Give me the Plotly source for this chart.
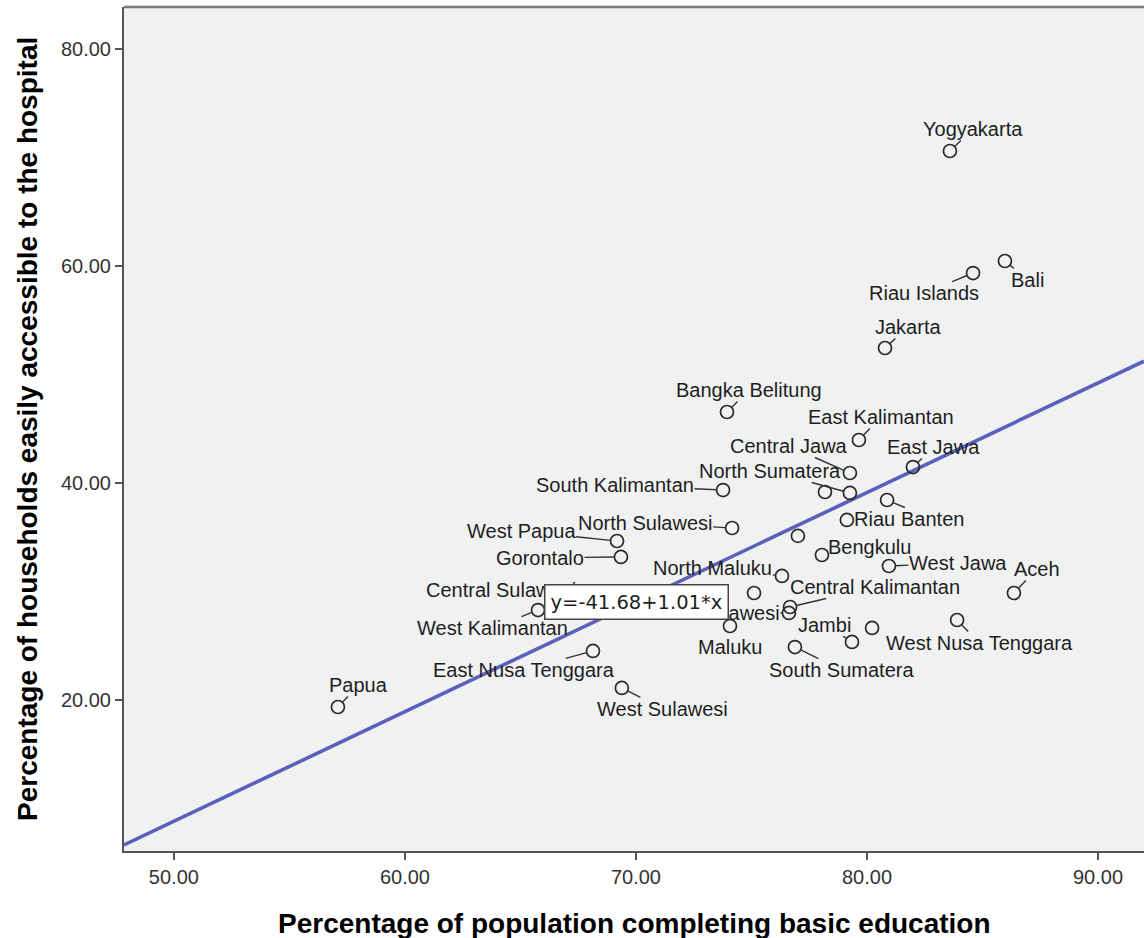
import plotly.graph_objects as go

# Province-level indicators
provinces = [
    "Yogyakarta", "Bali", "Riau Islands", "Jakarta", "Bangka Belitung",
    "East Kalimantan", "Central Jawa", "East Jawa", "South Kalimantan",
    "West Sumatera", "North Sumatera", "Banten", "Riau", "North Sulawesi",
    "South Sulawesi", "Bengkulu", "West Jawa", "North Maluku", "Aceh",
    "Lampung", "Central Kalimantan", "Southeast Sulawesi", "Maluku",
    "West Nusa Tenggara", "North Kalimantan", "Jambi", "South Sumatera",
    "West Papua", "Gorontalo", "Central Sulawesi", "West Kalimantan",
    "East Nusa Tenggara", "West Sulawesi", "Papua",
]
basic_education = [
    83.59, 85.97, 84.59, 80.78, 73.94,
    79.65, 79.26, 81.99, 73.77,
    78.18, 79.26, 80.87, 79.13, 74.16,
    77.01, 78.05, 80.95, 76.32, 86.36,
    75.11, 76.67, 76.62, 74.07,
    83.90, 80.22, 79.35, 76.88,
    69.18, 69.35, 66.54, 65.76,
    68.14, 69.39, 57.10,
]
hospital_access = [
    70.60, 60.46, 59.35, 52.44, 46.54,
    43.96, 40.92, 41.47, 39.35,
    39.17, 39.08, 38.43, 36.59, 35.85,
    35.12, 33.36, 32.35, 31.43, 29.86,
    29.86, 28.57, 28.02, 26.82,
    27.37, 26.64, 25.35, 24.88,
    34.65, 33.18, 28.94, 28.29,
    24.52, 21.11, 19.35,
]

# Linear fit (least squares)
fit_intercept = -41.68
fit_slope = 1.01

x_tick_values = [50, 60, 70, 80, 90]
y_tick_values = [20, 40, 60, 80]

x_title = "Percentage of population completing basic education"
y_title = "Percentage of households easily accessible to the hospital"

# Where each point label sits: offset of the label centre from its marker,
# in screen pixels (x to the right, y downward). Points not listed keep no label.
label_offsets = {
    "Yogyakarta": (23, -22),
    "Bali": (23, 19),
    "Riau Islands": (-49, 20),
    "Jakarta": (23, -21),
    "Bangka Belitung": (22, -22),
    "East Kalimantan": (22, -23),
    "Central Jawa": (-61, -27),
    "East Jawa": (21, -20),
    "South Kalimantan": (-108, -5),
    "North Sumatera": (-80, -22),
    "Banten": (45, 19),
    "Riau": (28, -1),
    "North Sulawesi": (-87, -5),
    "Bengkulu": (48, -8),
    "West Jawa": (69, -3),
    "North Maluku": (-69, -8),
    "Aceh": (23, -24),
    "Central Kalimantan": (85, -20),
    "Southeast Sulawesi": (-97, 0),
    "Maluku": (0, 21),
    "West Nusa Tenggara": (22, 23),
    "Jambi": (-27, -17),
    "South Sumatera": (47, 23),
    "West Papua": (-96, -10),
    "Gorontalo": (-81, 1),
    "Central Sulawesi": (-55, -13),
    "West Kalimantan": (-46, 18),
    "East Nusa Tenggara": (-69, 19),
    "West Sulawesi": (41, 21),
    "Papua": (21, -22),
}

X_RANGE = [47.84, 91.99]
Y_RANGE = [6.08, 83.87]

SANS = "Liberation Sans, Arial, Helvetica, sans-serif"
PLOT_BG = "#f0f1f1"
AXIS_COLOR = "#555555"
TEXT_COLOR = "#1e1e1e"
FIT_COLOR = "#5a61bb"

fig = go.Figure()

# Regression line across the full horizontal extent
fit_x = list(X_RANGE)
fit_y = [fit_intercept + fit_slope * v for v in fit_x]
fig.add_trace(go.Scatter(
    x=fit_x, y=fit_y, mode="lines",
    line=dict(color=FIT_COLOR, width=3.6),
    hoverinfo="skip", showlegend=False,
))

# Province markers
fig.add_trace(go.Scatter(
    x=basic_education, y=hospital_access, mode="markers",
    text=provinces,
    marker=dict(symbol="circle-open", size=13, color="#2a2a2a",
                line=dict(width=1.7)),
    hovertemplate="%{text}<br>%{x:.2f}, %{y:.2f}<extra></extra>",
    showlegend=False,
))

annotations = []
for name, xv, yv in zip(provinces, basic_education, hospital_access):
    if name not in label_offsets:
        continue
    dx, dy = label_offsets[name]
    annotations.append(dict(
        x=xv, y=yv, xref="x", yref="y",
        text=name, showarrow=True,
        ax=dx, ay=dy,
        arrowhead=0, arrowwidth=1.4, arrowcolor="#333333",
        standoff=6.5, borderpad=0,
        font=dict(family=SANS, size=20, color=TEXT_COLOR),
    ))

# Axis titles
annotations.append(dict(
    x=0.5, y=0, xref="paper", yref="paper",
    text="<b>%s</b>" % x_title, showarrow=False,
    xanchor="center", yanchor="middle", yshift=-72,
    font=dict(family=SANS, size=28, color="#000000"),
))
annotations.append(dict(
    x=0, y=0.5, xref="paper", yref="paper",
    text="<b>%s</b>" % y_title, showarrow=False, textangle=-90,
    xanchor="center", yanchor="middle", xshift=-97,
    font=dict(family=SANS, size=28, color="#000000"),
))

# Fit equation box, drawn last so it sits over nearby labels
annotations.append(dict(
    x=70.02, y=29.03, xref="x", yref="y",
    text="y=%.2f+%.2f*x" % (fit_intercept, fit_slope),
    showarrow=False, xanchor="center", yanchor="middle",
    bgcolor="#ffffff", bordercolor="#444444", borderwidth=1.5, borderpad=5,
    font=dict(family="DejaVu Sans, sans-serif", size=19.5, color=TEXT_COLOR),
))

axis_common = dict(
    showgrid=False, zeroline=False,
    showline=True, linecolor=AXIS_COLOR, linewidth=2,
    ticks="outside", ticklen=7, tickwidth=2, tickcolor=AXIS_COLOR,
    tickformat=".2f",
    tickfont=dict(family=SANS, size=20, color="#333333"),
)

fig.update_layout(
    width=1144, height=938,
    margin=dict(l=124, r=0, t=7, b=87),
    paper_bgcolor="#ffffff",
    plot_bgcolor=PLOT_BG,
    xaxis=dict(range=X_RANGE, tickvals=x_tick_values, **axis_common),
    yaxis=dict(range=Y_RANGE, tickvals=y_tick_values, **axis_common),
    annotations=annotations,
    shapes=[dict(type="line", xref="paper", yref="paper",
                 x0=0, x1=1, y0=1, y1=1,
                 line=dict(color="#7a7a7a", width=2.5))],
    showlegend=False,
)

fig.write_html("out.html")
